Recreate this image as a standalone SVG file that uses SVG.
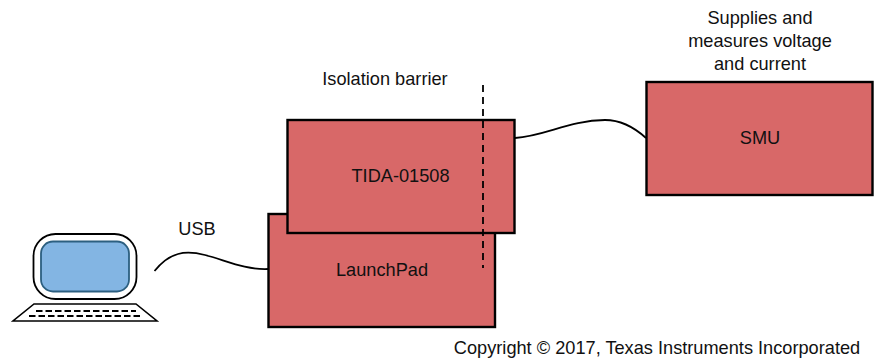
<svg xmlns="http://www.w3.org/2000/svg" width="874" height="360" viewBox="0 0 874 360">
<style>
text{font-family:"Liberation Sans",Arial,sans-serif;font-size:18.200px;fill:#111;text-anchor:middle}
.box{fill:#d86868;stroke:#000;stroke-width:2.4}
.wire{fill:none;stroke:#000;stroke-width:1.8}
.dash{fill:none;stroke:#000;stroke-width:1.8;stroke-dasharray:7 5}
</style>
<rect width="874" height="360" fill="#fff"/>
<g id="launchpad"><rect class="box" x="268.500" y="214" width="226.500" height="113"/><text x="382" y="276">LaunchPad</text></g>
<g id="tida"><rect class="box" x="287.500" y="120" width="227" height="113"/><text x="400.500" y="182">TIDA-01508</text></g>
<g id="smu"><rect class="box" x="646.500" y="82" width="226" height="113"/><text x="760" y="144">SMU</text></g>
<g id="computer">
<rect x="33.500" y="234" width="103" height="65" rx="22" fill="#fff" stroke="#000" stroke-width="1.800"/>
<rect x="41" y="241.500" width="88" height="50" rx="12" fill="#83b5e3" stroke="#2c5f80" stroke-width="1.800"/>
<path d="M34 304H136L157 321H13Z" fill="#fff" stroke="#000" stroke-width="1.600"/>
<path d="M36 311H136M29 316H142" fill="none" stroke="#000" stroke-width="1.800" stroke-dasharray="6.500 3"/>
</g>
<g id="connectors">
<path class="wire" d="M154.500 271C170 252 185 250 205 255C225 260 245 270 268 269"/>
<path class="wire" d="M515 138C545 136 570 120 605 120C622 120 635 128 646 138"/>
<path class="dash" d="M483 85V268"/>
</g>
<g id="labels">
<text x="385" y="85">Isolation barrier</text>
<text x="197" y="235">USB</text>
<text x="760" y="24">Supplies and</text>
<text x="760" y="47">measures voltage</text>
<text x="760" y="70">and current</text>
<text x="657" y="354">Copyright © 2017, Texas Instruments Incorporated</text>
</g>
</svg>
